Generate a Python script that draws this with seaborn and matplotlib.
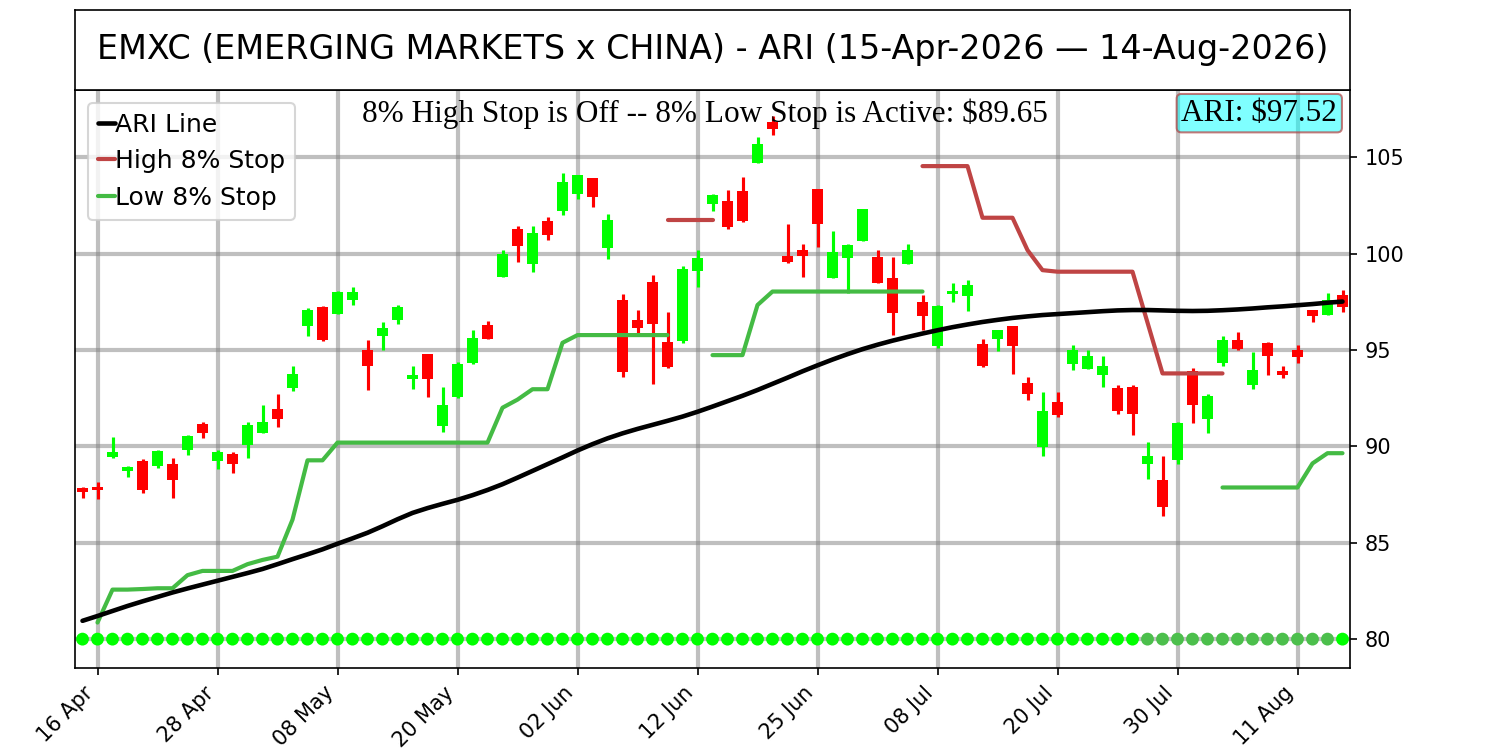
import numpy as np
import pandas as pd
import seaborn as sns
import matplotlib
matplotlib.use('Agg')
import matplotlib.pyplot as plt

title = 'EMXC (EMERGING MARKETS x CHINA) - ARI (15-Apr-2026 \u2014 14-Aug-2026)'
tick_days = [1, 9, 17, 25, 33, 41, 49, 57, 65, 73, 81]
tick_labels = ['16 Apr', '28 Apr', '08 May', '20 May', '02 Jun', '12 Jun',
               '25 Jun', '08 Jul', '20 Jul', '30 Jul', '11 Aug']

# daily candles (trading days 15-Apr .. 14-Aug)
opens = [87.85, 87.92, 89.45, 88.75, 89.24, 89.01, 89.07, 89.83, 91.14, 89.27,
         89.62, 90.05, 90.69, 91.96, 93.04, 96.23, 97.23, 96.85, 97.58, 94.98,
         95.71, 96.57, 93.49, 94.78, 91.04, 92.56, 94.33, 96.28, 98.79, 101.30,
         99.45, 101.68, 102.23, 103.10, 103.91, 100.31, 97.61, 96.57, 98.53, 95.42,
         95.47, 99.10, 102.59, 102.76, 103.28, 104.72, 106.85, 99.91, 100.21, 103.34,
         98.75, 99.79, 100.66, 99.83, 98.75, 99.45, 97.49, 95.19, 97.89, 97.79,
         95.33, 95.59, 96.23, 93.29, 89.97, 92.30, 94.29, 94.03, 93.69, 93.04,
         93.11, 89.07, 88.27, 89.31, 93.91, 91.44, 94.33, 95.54, 93.17, 95.36,
         93.94, 94.98, 97.06, 96.80, 97.84]
highs = [87.90, 88.15, 90.48, 89.01, 89.36, 89.80, 89.41, 90.62, 91.25, 89.79,
         89.71, 91.25, 92.13, 92.70, 94.20, 97.20, 97.27, 98.05, 98.27, 95.54,
         96.45, 97.35, 94.20, 94.81, 93.11, 94.38, 96.06, 96.49, 100.21, 101.42,
         101.42, 101.90, 104.20, 104.10, 103.95, 102.04, 97.89, 97.09, 98.88, 96.97,
         99.34, 100.17, 103.11, 103.33, 104.01, 106.04, 107.14, 101.52, 100.52, 103.37,
         101.18, 100.52, 102.34, 100.17, 99.83, 100.52, 97.84, 97.32, 98.48, 98.62,
         95.59, 96.06, 96.25, 93.63, 92.82, 92.82, 95.26, 94.98, 94.67, 93.17,
         93.17, 90.22, 89.53, 91.26, 94.08, 92.70, 95.71, 95.93, 94.90, 95.42,
         94.15, 95.24, 97.08, 97.96, 98.10]
lows = [87.30, 87.28, 89.40, 88.41, 87.58, 88.89, 87.34, 89.55, 90.45, 88.82,
        88.62, 89.41, 90.69, 91.00, 92.87, 95.71, 95.47, 96.85, 97.32, 92.94,
        95.02, 96.37, 92.96, 92.56, 90.74, 92.53, 94.29, 95.59, 98.79, 99.57,
        99.05, 100.74, 102.00, 102.82, 102.41, 99.71, 93.60, 95.85, 93.22, 94.09,
        95.36, 98.30, 102.21, 101.30, 101.64, 104.72, 106.19, 99.51, 98.79, 100.36,
        98.75, 97.96, 100.66, 98.48, 95.76, 99.45, 96.06, 95.12, 97.49, 97.02,
        94.12, 94.95, 93.74, 92.42, 89.48, 91.52, 93.98, 94.03, 93.08, 91.70,
        90.57, 88.32, 86.37, 89.10, 91.21, 90.69, 94.20, 95.02, 92.99, 93.69,
        93.56, 94.33, 96.45, 96.80, 96.97]
closes = [87.65, 87.75, 89.71, 88.93, 87.72, 89.76, 88.27, 90.52, 90.69, 89.71,
          89.07, 91.09, 91.26, 91.44, 93.77, 97.06, 95.50, 98.01, 98.01, 94.20,
          96.16, 97.23, 93.69, 93.49, 92.13, 94.29, 95.64, 95.59, 100.00, 100.40,
          101.07, 101.00, 103.74, 104.08, 102.96, 101.73, 93.86, 96.16, 96.37, 94.12,
          99.22, 99.79, 103.03, 101.38, 101.69, 105.70, 106.45, 99.55, 99.91, 101.57,
          100.09, 100.48, 102.34, 98.48, 96.92, 100.21, 96.75, 97.27, 98.06, 98.36,
          94.20, 96.02, 95.19, 92.73, 91.83, 91.61, 95.02, 94.67, 94.20, 91.83,
          91.70, 89.48, 86.85, 91.21, 92.13, 92.60, 95.54, 95.07, 93.98, 94.72,
          93.69, 94.64, 96.75, 97.58, 97.25]

ari = [80.95, 81.20, 81.46, 81.72, 81.96, 82.19, 82.42, 82.63, 82.83, 83.03,
       83.23, 83.43, 83.64, 83.89, 84.15, 84.40, 84.66, 84.95, 85.23, 85.52,
       85.86, 86.22, 86.55, 86.80, 87.02, 87.23, 87.47, 87.74, 88.04, 88.38,
       88.73, 89.08, 89.43, 89.79, 90.12, 90.42, 90.68, 90.91, 91.12, 91.33,
       91.55, 91.80, 92.07, 92.35, 92.63, 92.93, 93.25, 93.57, 93.90, 94.21,
       94.51, 94.79, 95.05, 95.28, 95.49, 95.68, 95.86, 96.03, 96.19, 96.33,
       96.46, 96.57, 96.67, 96.75, 96.82, 96.87, 96.92, 96.97, 97.02, 97.06,
       97.08, 97.08, 97.06, 97.04, 97.03, 97.04, 97.07, 97.11, 97.16, 97.22,
       97.27, 97.33, 97.39, 97.46, 97.52]

nan = np.nan
low_stop = [nan, 80.86, 82.57, 82.57, 82.60, 82.64, 82.64, 83.32, 83.54, 83.54,
            83.54, 83.89, 84.11, 84.28, 86.20, 89.28, 89.28, 90.20, 90.20, 90.20,
            90.20, 90.20, 90.20, 90.20, 90.20, 90.20, 90.20, 90.20, 92.01, 92.43,
            92.97, 92.97, 95.38, 95.78, 95.78, 95.78, 95.78, 95.78, 95.78, 95.78,
            nan, nan, 94.74, 94.74, 94.74, 97.34, 98.04, 98.04, 98.04, 98.04,
            98.04, 98.04, 98.04, 98.04, 98.04, 98.04, 98.04, nan, nan, nan,
            nan, nan, nan, nan, nan, nan, nan, nan, nan, nan,
            nan, nan, nan, nan, nan, nan, 87.87, 87.87, 87.87, 87.87,
            87.87, 87.87, 89.12, 89.65, 89.65]
high_stop = [nan, nan, nan, nan, nan, nan, nan, nan, nan, nan,
             nan, nan, nan, nan, nan, nan, nan, nan, nan, nan,
             nan, nan, nan, nan, nan, nan, nan, nan, nan, nan,
             nan, nan, nan, nan, nan, nan, nan, nan, nan, 101.75,
             101.75, 101.75, 101.75, nan, nan, nan, nan, nan, nan, nan,
             nan, nan, nan, nan, nan, nan, 104.55, 104.55, 104.55, 104.55,
             101.87, 101.87, 101.87, 100.19, 99.15, 99.07, 99.07, 99.07, 99.07, 99.07,
             99.07, 96.43, 93.79, 93.79, 93.79, 93.79, 93.79, nan, nan, nan,
             nan, nan, nan, nan, nan]

# bottom signal dots: 1 = bright, 0 = muted
signal = [1, 1, 1, 1, 1, 1, 1, 1, 1, 1, 1, 1, 1, 1, 1, 1, 1, 1, 1, 1,
          1, 1, 1, 1, 1, 1, 1, 1, 1, 1, 1, 1, 1, 1, 1, 1, 1, 1, 1, 1,
          1, 1, 1, 1, 1, 1, 1, 1, 1, 1, 1, 1, 1, 1, 1, 1, 1, 1, 1, 1,
          1, 1, 1, 1, 1, 1, 1, 1, 1, 1, 1, 0, 0, 0, 0, 0, 0, 0, 0, 0,
          0, 0, 0, 0, 1]

sns.set_style('ticks', {'axes.edgecolor': 'black', 'text.color': 'black',
                        'xtick.color': 'black', 'ytick.color': 'black',
                        'axes.labelcolor': 'black'})
plt.rcParams['font.family'] = ['DejaVu Sans']

df = pd.DataFrame({'day': np.arange(len(opens)), 'open': opens, 'high': highs,
                   'low': lows, 'close': closes, 'ari': ari,
                   'low_stop': low_stop, 'high_stop': high_stop, 'signal': signal})
df['base'] = 80

fig = plt.figure(figsize=(10, 5), dpi=150)
ax = fig.add_axes([0.05, 0.1093, 0.85, 0.7707])
tax = fig.add_axes([0.05, 0.88, 0.85, 0.1067])

# candles
colors = np.where(df['close'] >= df['open'], '#00ff00', '#ff0000')
ax.vlines(df['day'], df['low'], df['high'], colors=colors, lw=1.5, zorder=2)
ax.bar(df['day'], (df['close'] - df['open']).abs(),
       bottom=np.minimum(df['open'], df['close']), width=0.68,
       color=colors, linewidth=0, zorder=2)

sns.lineplot(data=df, x='day', y='ari', color='black', lw=2.2,
             label='ARI Line', ax=ax, zorder=4)


def draw_stop(col, color, label):
    s = df[col]
    grp = s.isna().cumsum()
    first = True
    for _, g in df[s.notna()].groupby(grp[s.notna()]):
        sns.lineplot(x=g['day'], y=g[col], color=color, lw=2,
                     label=label if first else None, ax=ax, zorder=3)
        first = False


draw_stop('high_stop', '#bf4444', 'High 8% Stop')
draw_stop('low_stop', '#44bb44', 'Low 8% Stop')

sns.scatterplot(data=df, x='day', y='base', hue='signal',
                palette={1: '#00ff00', 0: '#4cbf4c'}, s=38, linewidth=0,
                legend=False, ax=ax, zorder=3)

ax.set_xlim(-0.5, 84.5)
ax.set_ylim(78.5, 108.5)
ax.set_yticks([80, 85, 90, 95, 100, 105])
ax.yaxis.tick_right()
ax.set_xticks(tick_days)
ax.set_xticklabels(tick_labels, rotation=45, ha='right', fontsize=10)
ax.tick_params(axis='y', labelsize=10)
ax.set_xlabel('')
ax.set_ylabel('')
ax.grid(True, color='gray', alpha=0.5, lw=2)
for sp in ax.spines.values():
    sp.set_visible(True)
    sp.set_color('black')

ax.legend(loc='upper left', fontsize=12, handlelength=0.7, handletextpad=0.0)

ax.text(0.494, 0.985, '8%% High Stop is Off -- 8%% Low Stop is Active: $%.2f' % low_stop[-1],
        transform=ax.transAxes, ha='center', va='top', fontsize=15,
        family='Liberation Serif', zorder=6)
ax.text(0.99, 0.985, 'ARI: $%.2f' % ari[-1], transform=ax.transAxes,
        ha='right', va='top', fontsize=15, family='Liberation Serif', zorder=6,
        bbox=dict(boxstyle='round,pad=0.15', fc=(0, 1, 1, 0.5),
                  ec=(0.7, 0.25, 0.25, 0.7)))

tax.set_xticks([])
tax.set_yticks([])
for sp in tax.spines.values():
    sp.set_visible(True)
    sp.set_color('black')
tax.text(0.5, 0.5, title, ha='center', va='center', fontsize=16,
         transform=tax.transAxes)

fig.savefig('out.png', dpi=150)
